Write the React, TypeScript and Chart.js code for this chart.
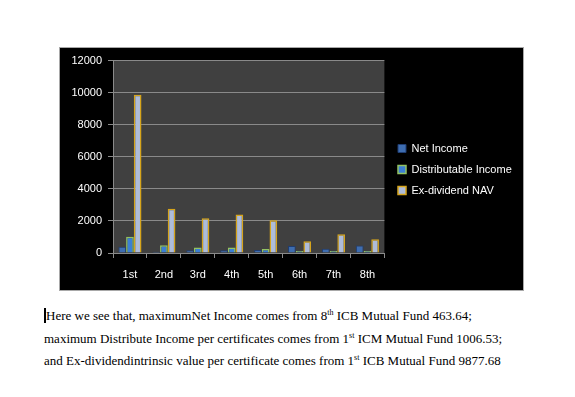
import React, { useEffect, useRef } from "react";
import { Chart, registerables } from "chart.js";

Chart.register(...registerables);

const categories = ["1st", "2nd", "3rd", "4th", "5th", "6th", "7th", "8th"];
const netIncome = [390, 80, 170, 170, 185, 430, 270, 463.64];
const distributableIncome = [1006.53, 490, 350, 350, 245, 125, 125, 125];
const exDividendNav = [9877.68, 2760, 2160, 2400, 2035, 740, 1170, 860];
const seriesNames = ["Net Income", "Distributable Income", "Ex-dividend NAV"];
const yMin = 0;
const yMax = 12000;
const yStep = 2000;

const FONT = "'Liberation Sans', Arial, sans-serif";

const plotBg = {
  id: "plotBg",
  beforeDraw(chart: any) {
    const { ctx, chartArea } = chart;
    ctx.save();
    ctx.fillStyle = "#404040";
    ctx.fillRect(chartArea.left, chartArea.top, chartArea.right - chartArea.left, chartArea.bottom - chartArea.top);
    ctx.restore();
  },
};

const legendShift = {
  id: "legendShift",
  afterLayout(chart: any) {
    const lg = chart.legend;
    if (!lg) return;
    lg.left = 328;
    lg.right = 462;
    lg.width = 134;
    lg.top -= 5;
    lg.bottom -= 5;
  },
};

function ChartBox() {
  const ref = useRef<HTMLCanvasElement | null>(null);
  useEffect(() => {
    if (!ref.current) return;
    const chart = new Chart(ref.current, {
      type: "bar",
      data: {
        labels: categories,
        datasets: [
          {
            label: seriesNames[0],
            data: netIncome,
            backgroundColor: "#3e6db0",
            borderColor: "#1f3d72",
            borderWidth: 1,
          },
          {
            label: seriesNames[1],
            data: distributableIncome,
            backgroundColor: "#3b7fd4",
            borderColor: "#93c262",
            borderWidth: 1.5,
          },
          {
            label: seriesNames[2],
            data: exDividendNav,
            backgroundColor: "#aebcd9",
            borderColor: "#d6a51c",
            borderWidth: 1.5,
          },
        ],
      },
      options: {
        animation: false,
        responsive: false,
        maintainAspectRatio: false,
        layout: { padding: { left: 0, top: 11, right: 30.5, bottom: 0 } },
        datasets: { bar: { categoryPercentage: 0.68, barPercentage: 1 } } as any,
        plugins: {
          legend: {
            position: "right",
            labels: {
              color: "#ffffff",
              font: { family: FONT, size: 11 },
              boxWidth: 8,
              boxHeight: 8,
              padding: 10,
            },
          },
          tooltip: { enabled: false },
        },
        scales: {
          x: {
            afterFit(scale: any) {
              scale.height = 37;
            },
            grid: {
              drawOnChartArea: false,
              drawTicks: true,
              tickLength: 5,
              color: "#8a8a8a",
            },
            border: { color: "#8a8a8a" },
            ticks: {
              color: "#ffffff",
              font: { family: FONT, size: 11 },
              padding: 10,
            },
          },
          y: {
            min: yMin,
            max: yMax,
            afterFit(scale: any) {
              scale.width = 53;
            },
            grid: { color: "#8a8a8a", tickLength: 5 },
            border: { color: "#8a8a8a" },
            ticks: {
              stepSize: yStep,
              color: "#ffffff",
              font: { family: FONT, size: 11 },
              padding: 6,
              callback: (v: any) => String(v),
            },
          },
        },
      },
      plugins: [plotBg, legendShift],
    });
    return () => chart.destroy();
  }, []);
  return (
    <div
      style={{
        position: "absolute",
        left: 59,
        top: 47,
        width: 465,
        height: 244,
        boxSizing: "border-box",
        border: "1px solid #a8a8a8",
        background: "#000",
      }}
    >
      <canvas ref={ref} width={463} height={242} style={{ display: "block", width: 463, height: 242 }} />
    </div>
  );
}

const supStyle: React.CSSProperties = { fontSize: 8, verticalAlign: "super", lineHeight: 0 };

export default function App() {
  return (
    <div style={{ position: "absolute", left: 0, top: 0, width: 575, height: 397, background: "#fff", overflow: "hidden" }}>
      <ChartBox />
      <div
        style={{
          position: "absolute",
          left: 44,
          top: 305,
          width: 520,
          fontFamily: "'Liberation Serif', 'Times New Roman', serif",
          fontSize: 13,
          lineHeight: "22.5px",
          color: "#000",
          whiteSpace: "nowrap",
        }}
      >
        <div>
          <span style={{ display: "inline-block", width: 2, height: 15, background: "#000", verticalAlign: -3 }} />
          Here we see that, maximumNet Income comes from 8<sup style={supStyle}>th</sup> ICB Mutual Fund 463.64;
        </div>
        <div>
          maximum Distribute Income per certificates comes from 1<sup style={supStyle}>st</sup> ICM Mutual Fund 1006.53;
        </div>
        <div>
          and Ex-dividendintrinsic value per certificate comes from 1<sup style={supStyle}>st</sup> ICB Mutual Fund 9877.68
        </div>
      </div>
    </div>
  );
}
